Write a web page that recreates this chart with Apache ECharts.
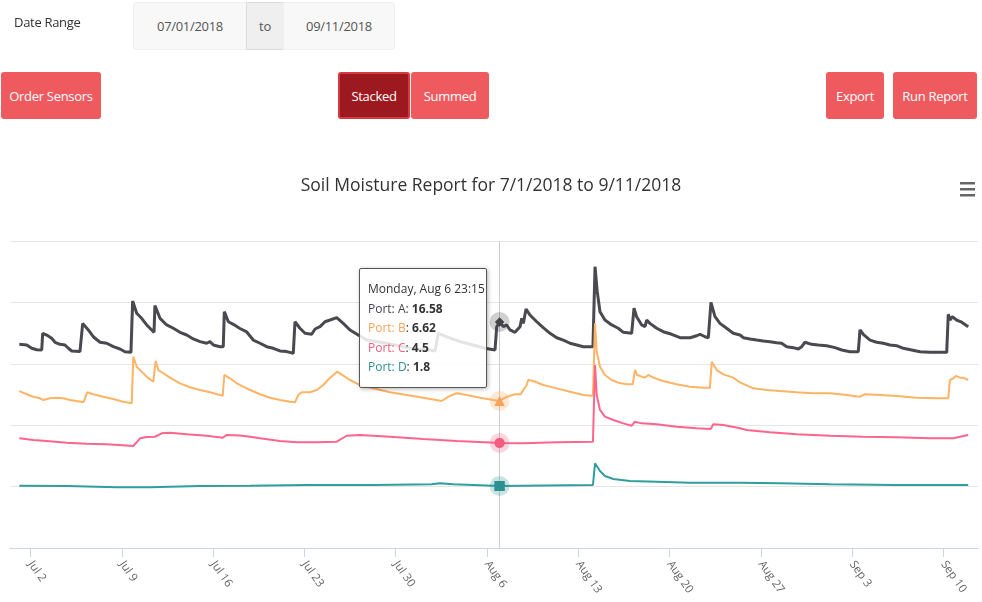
<!DOCTYPE html>
<html lang="en">
<head>
    <meta charset="UTF-8">
    <title>Soil Moisture Report</title>
    <script src="https://cdn.jsdelivr.net/npm/echarts@6/dist/echarts.min.js"></script>
    <style>
        body { margin: 0; background: #fff; font-family: 'Open Sans', sans-serif; }
        #page { position: relative; width: 982px; height: 602px; overflow: hidden; }
        #chart { position: absolute; left: 0; top: 0; width: 982px; height: 602px; }
        .ctl { position: absolute; display: flex; align-items: center; justify-content: center;
               box-sizing: border-box; font-size: 13px; letter-spacing: -0.3px; z-index: 2; }
        .inp { top: 2px; height: 48px; background: #f8f8f8; border: 1px solid #f0f0f0; color: #555; }
        .btn { top: 72px; height: 47px; color: #fff; background: #ef5a5f; border-radius: 3px; }
    </style>
</head>
<body>
<div id="page">
    <div id="chart"></div>

    <!-- form controls above the chart -->
    <div class="ctl" style="left:14px;top:10px;height:24px;color:#333;">Date Range</div>
    <div class="ctl inp" style="left:133px;width:114px;border-radius:3px 0 0 3px;">07/01/2018</div>
    <div class="ctl inp" style="left:246px;width:38px;background:#efefef;border-color:#dcdcdc;">to</div>
    <div class="ctl inp" style="left:283px;width:112px;border-radius:0 3px 3px 0;">09/11/2018</div>

    <div class="ctl btn" style="left:1px;width:100px;">Order Sensors</div>
    <div class="ctl btn" style="left:338px;width:72px;background:#9c1a1f;border:2px solid #d63a40;">Stacked</div>
    <div class="ctl btn" style="left:411px;width:78px;">Summed</div>
    <div class="ctl btn" style="left:826px;width:58px;">Export</div>
    <div class="ctl btn" style="left:893px;width:84px;">Run Report</div>
</div>

<script>
    // days since 2018-07-01 00:00, value
    var portA = [
        [0.14,14.76],[0.71,14.71],[1.09,14.44],[1.47,14.32],[1.86,14.30],[1.93,15.66],[2.24,15.52],[2.62,15.25],
        [2.88,14.93],[3.26,14.76],[3.64,14.71],[3.90,14.44],[4.16,14.22],[4.79,14.17],[5.00,16.47],[5.43,15.93],
        [5.81,15.38],[6.33,14.93],[6.84,14.85],[7.35,14.57],[7.86,14.38],[8.24,14.16],[8.70,14.11],[8.83,18.29],
        [9.14,17.29],[9.52,16.88],[9.91,16.34],[10.29,15.93],[10.47,15.74],[10.54,17.91],[10.93,16.88],[11.44,16.34],
        [11.95,16.07],[12.46,15.74],[12.98,15.52],[13.48,15.20],[14.00,14.98],[14.51,14.85],[14.76,14.98],[15.02,14.71],
        [15.53,14.57],[15.78,14.57],[15.86,17.42],[16.17,16.60],[16.55,16.39],[17.06,16.05],[17.58,15.77],[18.08,15.11],
        [18.60,14.85],[19.11,14.57],[19.62,14.44],[20.13,14.22],[20.64,14.17],[21.15,14.03],[21.28,16.60],[21.66,16.07],
        [22.05,15.66],[22.56,15.58],[22.82,16.01],[23.20,16.20],[23.58,16.60],[23.97,16.74],[24.48,16.93],[24.98,16.47],
        [25.50,15.93],[26.13,15.52],[26.78,15.11],[28.31,14.85],[30.10,14.44],[31.63,14.30],[32.02,14.22],[32.27,15.66],
        [32.91,15.38],[33.93,14.98],[34.95,14.71],[35.85,14.44],[36.62,14.30],[36.75,16.20],[36.96875,16.58],[37.26,16.20],
        [37.52,16.34],[37.77,15.93],[38.15,15.74],[38.54,16.20],[38.67,16.88],[38.79,16.47],[39.00,17.64],[39.30,17.15],
        [39.82,16.60],[40.32,16.12],[40.84,15.66],[41.35,15.30],[41.86,15.11],[42.37,14.85],[42.89,14.71],[43.39,14.57],
        [44.13,14.57],[44.29,21.08],[44.46,19.05],[44.67,17.42],[45.05,16.74],[45.57,16.34],[46.07,16.07],[46.46,15.74],
        [47.10,15.66],[47.28,17.70],[47.48,17.01],[47.87,16.34],[48.12,16.20],[48.25,16.74],[48.50,16.47],[49.02,16.07],
        [49.52,15.79],[50.17,15.58],[50.81,15.30],[51.57,15.30],[52.09,15.46],[52.34,15.58],[52.72,15.38],[52.98,15.30],
        [53.18,18.18],[53.49,17.01],[53.87,16.47],[54.38,16.07],[54.89,15.66],[55.41,15.52],[55.66,15.30],[56.17,15.20],
        [56.69,15.11],[57.19,15.03],[57.71,14.98],[58.22,14.89],[58.60,14.85],[58.99,14.57],[59.49,14.49],[59.88,14.38],
        [60.14,14.57],[60.39,14.93],[60.90,14.76],[61.41,14.71],[62.05,14.65],[62.69,14.49],[63.21,14.30],[63.84,14.16],
        [64.48,14.16],[64.61,15.93],[64.86,15.58],[65.38,15.11],[65.89,14.93],[66.39,14.85],[66.91,14.71],[67.42,14.65],
        [67.93,14.44],[68.57,14.30],[69.21,14.16],[69.98,14.11],[70.74,14.11],[71.26,14.11],[71.38,17.21],[71.51,16.74],
        [71.69,17.01],[72.02,16.74],[72.41,16.56],[72.91,16.20]
    ];
    var portB = [
        [0.14,7.43],[0.71,7.17],[1.21,6.97],[1.73,6.84],[1.98,6.70],[2.49,6.84],[3.01,6.89],[3.51,6.84],
        [4.03,6.70],[4.54,6.62],[5.05,6.51],[5.35,7.33],[5.81,7.17],[6.58,6.97],[7.35,6.78],[8.11,6.56],
        [8.76,6.43],[8.88,10.23],[9.14,9.41],[9.52,9.01],[9.91,8.60],[10.41,8.18],[10.60,9.88],[10.80,9.14],
        [11.18,8.88],[11.69,8.52],[12.46,8.06],[13.23,7.74],[14.00,7.52],[14.76,7.33],[15.74,7.05],[15.86,8.74],
        [16.30,8.47],[16.81,8.06],[17.58,7.64],[18.60,7.17],[19.36,6.89],[20.13,6.70],[20.90,6.56],[21.28,6.51],
        [21.53,7.11],[21.79,7.33],[22.43,7.33],[22.94,7.52],[23.45,7.92],[23.97,8.52],[24.52,9.01],[24.98,8.68],
        [25.50,8.33],[26.27,7.92],[27.28,7.65],[28.57,7.33],[29.85,7.11],[31.12,6.89],[32.53,6.62],[33.04,6.97],
        [33.68,7.25],[34.45,7.11],[35.47,6.89],[36.49,6.70],[36.96875,6.62],[37.38,6.89],[37.77,7.05],[38.15,7.17],
        [38.59,7.17],[38.79,7.52],[39.05,7.92],[39.17,8.33],[39.56,8.25],[40.32,7.92],[41.35,7.65],[42.37,7.38],
        [43.39,7.11],[44.13,7.05],[44.29,12.95],[44.42,10.63],[44.67,9.41],[45.05,8.74],[45.57,8.33],[46.07,8.11],
        [46.72,7.98],[47.18,7.98],[47.35,9.14],[47.53,8.74],[47.87,8.60],[48.12,8.52],[48.38,8.74],[48.76,8.52],
        [49.52,8.25],[50.55,7.98],[51.57,7.78],[52.59,7.70],[53.10,7.70],[53.24,9.82],[53.62,9.14],[54.13,8.79],
        [54.89,8.52],[55.41,8.13],[56.43,7.65],[57.45,7.52],[58.47,7.43],[59.75,7.33],[61.03,7.25],[62.31,7.25],
        [63.59,7.11],[64.61,6.97],[64.99,7.17],[66.14,7.11],[67.42,7.03],[68.96,6.89],[70.49,6.84],[71.38,6.84],
        [71.51,8.33],[71.76,8.47],[71.97,8.66],[72.28,8.52],[72.53,8.52],[72.91,8.33]
    ];
    var portC = [
        [0.14,4.88],[1.21,4.74],[2.24,4.66],[3.77,4.52],[5.31,4.44],[6.84,4.39],[8.63,4.28],[8.88,4.26],
        [9.14,4.56],[9.39,4.88],[9.91,4.99],[10.54,5.01],[11.06,5.29],[11.69,5.34],[12.98,5.21],[14.51,5.09],
        [15.74,4.93],[16.04,5.15],[17.06,5.11],[17.83,5.01],[18.60,4.88],[20.13,4.66],[21.41,4.56],[22.94,4.56],
        [24.48,4.61],[25.25,5.09],[26.27,5.15],[28.57,5.01],[31.12,4.83],[33.68,4.66],[36.23,4.54],[36.96875,4.5],
        [38.79,4.48],[41.35,4.56],[44.13,4.61],[44.29,10.85],[44.42,8.41],[44.67,7.19],[45.05,6.65],[45.69,6.37],
        [46.46,6.10],[47.10,5.91],[47.35,6.23],[47.87,6.10],[49.02,6.02],[50.55,5.83],[52.09,5.70],[53.16,5.64],
        [53.36,6.02],[54.13,5.97],[55.41,5.70],[55.92,5.56],[57.71,5.37],[59.75,5.21],[62.31,5.09],[64.86,5.01],
        [67.42,4.96],[69.98,4.88],[71.76,4.88],[72.28,5.01],[72.91,5.15]
    ];
    var portD = [
        [0.14,1.82],[3.77,1.80],[7.61,1.69],[10.16,1.69],[14.00,1.80],[17.83,1.82],[22.18,1.88],[27.28,1.88],
        [31.76,1.94],[32.40,2.02],[33.42,1.94],[34.95,1.88],[36.96875,1.8],[44.13,1.88],[44.29,3.65],[44.67,3.02],
        [45.05,2.61],[45.69,2.37],[46.97,2.21],[49.02,2.15],[51.57,2.07],[55.41,2.07],[58.47,2.02],[62.31,1.94],
        [67.42,1.88],[72.91,1.88]
    ];
    var portNames = ['Port: A', 'Port: B', 'Port: C', 'Port: D'];
    var portColors = ['#434348', '#f7a35c', '#f15c80', '#2b908f'];
    var portSymbols = ['diamond', 'triangle', 'circle', 'rect'];
    var monthNames = ['Jan','Feb','Mar','Apr','May','Jun','Jul','Aug','Sep','Oct','Nov','Dec'];
    var dayNames = ['Sunday','Monday','Tuesday','Wednesday','Thursday','Friday','Saturday'];
    var tickDays = [1, 8, 15, 22, 29, 36, 43, 50, 57, 64, 71];   // Mondays, Jul 2 .. Sep 10
    var hoverDay = 36.96875;                                      // Aug 6 23:15

    var DAY = 86400000;
    var base = new Date(2018, 6, 1).getTime();
    function toTime(d) { return base + d * DAY; }

    var chart = echarts.init(document.getElementById('chart'));

    // each port is drawn on its own hidden axis (stacked view), all with the same span
    var axisMins = [-1.824, -5.351, -4.05, -3.249];
    var yAxes = [{
        type: 'value', min: 0, max: 5, interval: 1,
        axisLabel: { show: false }, axisLine: { show: false }, axisTick: { show: false },
        splitLine: { lineStyle: { color: '#e6e6e6' } }
    }];
    axisMins.forEach(function (m) {
        yAxes.push({ type: 'value', show: false, min: m, max: m + 25, splitLine: { show: false } });
    });

    var seriesData = [portA, portB, portC, portD];
    var series = seriesData.map(function (arr, i) {
        var hovered = arr.find(function (p) { return p[0] === hoverDay; });
        var at = [toTime(hovered[0]), hovered[1]];
        var size = i === 0 ? 9 : 10;
        return {
            name: portNames[i],
            type: 'line',
            yAxisIndex: i + 1,
            showSymbol: false,
            symbol: portSymbols[i],
            symbolSize: size,
            color: portColors[i],
            lineStyle: { width: i === 0 ? 3 : 2 },
            itemStyle: { color: portColors[i], borderWidth: 0 },
            emphasis: {
                scale: false,
                lineStyle: { width: i === 0 ? 3 : 2 },
                itemStyle: { borderWidth: 0 }
            },
            // hovered point: soft halo with the series marker on top
            markPoint: {
                silent: true,
                label: { show: false },
                data: [
                    { coord: at, symbol: 'circle', symbolSize: 20,
                      itemStyle: { color: echarts.color.modifyAlpha(portColors[i], 0.25) } },
                    { coord: at, symbol: portSymbols[i], symbolSize: size,
                      itemStyle: { color: portColors[i] } }
                ]
            },
            data: arr.map(function (p) { return [toTime(p[0]), p[1]]; })
        };
    });

    function pad(n) { return n < 10 ? '0' + n : '' + n; }

    chart.setOption({
        animation: false,
        title: {
            text: 'Soil Moisture Report for 7/1/2018 to 9/11/2018',
            left: 'center', top: 172,
            textStyle: { fontSize: 17.5, fontWeight: 'normal', color: '#333', fontFamily: 'Open Sans' }
        },
        graphic: [
            { type: 'rect', left: 960, top: 182, shape: { width: 15, height: 2.5 }, style: { fill: '#666' } },
            { type: 'rect', left: 960, top: 188, shape: { width: 15, height: 2.5 }, style: { fill: '#666' } },
            { type: 'rect', left: 960, top: 194, shape: { width: 15, height: 2.5 }, style: { fill: '#666' } }
        ],
        grid: { left: 10, right: 4, top: 241, bottom: 54 },
        tooltip: {
            trigger: 'axis',
            alwaysShowContent: true,
            transitionDuration: 0,
            position: [359, 268],
            backgroundColor: 'rgba(255,255,255,0.85)',
            borderColor: '#555',
            borderWidth: 1,
            padding: [10, 8],
            textStyle: { fontSize: 12, color: '#333', fontFamily: 'Open Sans' },
            extraCssText: 'box-shadow:1px 1px 4px rgba(0,0,0,0.3);border-radius:2px;line-height:19.5px;width:110px;',
            axisPointer: {
                type: 'line', snap: true, z: 1,
                lineStyle: { color: '#cccccc', width: 1, type: 'solid' }
            },
            formatter: function (params) {
                var dt = new Date(params[0].value[0]);
                var s = dayNames[dt.getDay()] + ', ' + monthNames[dt.getMonth()] + ' ' + dt.getDate() +
                    ' ' + pad(dt.getHours()) + ':' + pad(dt.getMinutes());
                params.forEach(function (p) {
                    s += '<br><span style="color:' + p.color + '">' + p.seriesName + '</span>: <b>' +
                        p.value[1] + '</b>';
                });
                return s;
            }
        },
        xAxis: {
            type: 'value',
            min: toTime(-0.575),
            max: toTime(73.66),
            splitLine: { show: false },
            axisLine: { lineStyle: { color: '#ccd6eb' } },
            axisPointer: { z: 1, label: { show: false } },
            axisTick: {
                length: 9,
                lineStyle: { color: '#ccd6eb' },
                customValues: tickDays.map(toTime)
            },
            axisLabel: {
                rotate: -55,
                margin: 14,
                color: '#666',
                fontSize: 11.5,
                fontFamily: 'Open Sans',
                customValues: tickDays.map(toTime),
                formatter: function (v) {
                    var d = new Date(v);
                    return monthNames[d.getMonth()] + ' ' + d.getDate();
                }
            }
        },
        yAxis: yAxes,
        series: series
    });

    var hoverIndex = portA.findIndex(function (p) { return p[0] === hoverDay; });
    chart.dispatchAction({ type: 'showTip', seriesIndex: 0, dataIndex: hoverIndex });
</script>
</body>
</html>
